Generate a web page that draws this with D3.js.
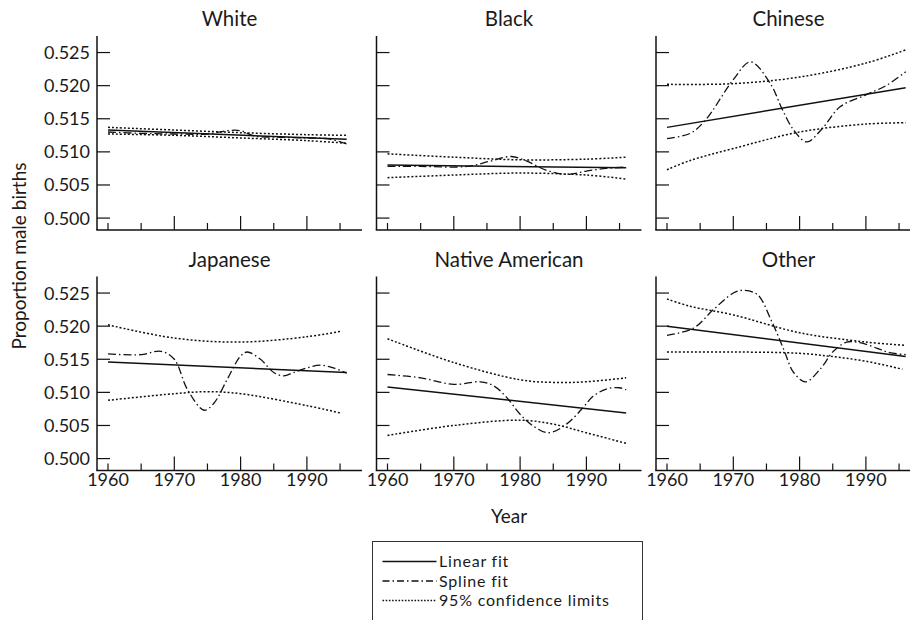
<!DOCTYPE html>
<html>
<head>
<meta charset="utf-8">
<script src="https://cdn.jsdelivr.net/npm/d3@7"></script>
<style>
  html, body { margin: 0; padding: 0; background: #fff; }
  svg { display: block; }
  text { font-family: "Lato", "Open Sans", sans-serif; fill: #1a1a1a; }
</style>
</head>
<body>
<svg id="chart" width="910" height="620"></svg>
<script>
// ---------------- DATA ----------------
const groups = ["White", "Black", "Chinese", "Japanese", "Native American", "Other"];
const yTickValues = [0.500, 0.505, 0.510, 0.515, 0.520, 0.525];
const xMajorTicks = [1970, 1980, 1990];
const xMinorTicks = [1960, 1965, 1975, 1985, 1995];
const xTickLabels = [1960, 1970, 1980, 1990];
const legendLabels = ["Linear fit", "Spline fit", "95% confidence limits"];

// linear fit: value at first and last year
const linearYears = [1960, 1996];
const linearWhite = [0.5133, 0.5119];
const linearBlack = [0.5080, 0.5076];
const linearChinese = [0.5137, 0.5197];
const linearJapanese = [0.5146, 0.5130];
const linearNative = [0.5108, 0.5069];
const linearOther = [0.5200, 0.5154];

// 95% confidence limits [year, value]
const upperWhite = [[1960,0.5137],[1970,0.5133],[1980,0.5129],[1990,0.5126],[1996,0.5125]];
const lowerWhite = [[1960,0.5127],[1970,0.5125],[1980,0.5121],[1990,0.5117],[1996,0.5113]];
const upperBlack = [[1960,0.5097],[1970,0.5092],[1980,0.5088],[1990,0.5089],[1996,0.5092]];
const lowerBlack = [[1960,0.5061],[1970,0.5065],[1980,0.5068],[1990,0.5065],[1996,0.5059]];
const upperChinese = [[1960,0.5202],[1970,0.5203],[1980,0.5213],[1990,0.5234],[1996,0.5254]];
const lowerChinese = [[1960,0.5073],[1963.5,0.5087],[1970,0.5105],[1980,0.5130],[1990,0.5142],[1996,0.5144]];
const upperJapanese = [[1960,0.5202],[1970,0.5182],[1980,0.5176],[1990,0.5184],[1995,0.5192]];
const lowerJapanese = [[1960,0.5088],[1970,0.5098],[1975,0.5101],[1980,0.5098],[1990,0.5080],[1995,0.5069]];
const upperNative = [[1960,0.5181],[1970,0.5145],[1980,0.5119],[1985,0.5115],[1990,0.5116],[1996,0.5122]];
const lowerNative = [[1960,0.5035],[1970,0.5050],[1980,0.5058],[1985,0.5052],[1990,0.5039],[1996,0.5023]];
const upperOther = [[1960,0.5241],[1963.5,0.5230],[1970,0.5217],[1980,0.5190],[1990,0.5176],[1996,0.5171]];
const lowerOther = [[1960,0.5161],[1970,0.5161],[1980,0.5159],[1985,0.5154],[1990,0.5147],[1995.5,0.5135]];

// spline fit [year, value]
const splineWhite = [[1960,0.5130],[1965,0.5128],[1970,0.5127],[1975,0.5127],[1978,0.5132],[1980,0.5132],[1982,0.5124],[1986,0.5122],[1990,0.5121],[1993,0.5120],[1996,0.5112]];
const splineBlack = [[1960,0.5078],[1965,0.5078],[1972,0.5078],[1975.5,0.5086],[1978.7,0.5093],[1981,0.5086],[1984,0.5072],[1987,0.5066],[1990,0.5071],[1993,0.5075],[1996,0.5077]];
const splineChinese = [[1960,0.5120],[1963.5,0.5128],[1965.8,0.5148],[1970,0.5209],[1972.6,0.5236],[1975.6,0.5203],[1977.3,0.5166],[1979.1,0.5133],[1981.1,0.5115],[1983.4,0.5135],[1986.1,0.5168],[1990,0.5186],[1993.2,0.5201],[1996,0.5221]];
const splineJapanese = [[1960,0.5158],[1965,0.5157],[1968,0.5162],[1970,0.5150],[1972,0.5104],[1974.5,0.5073],[1976,0.5084],[1978,0.5120],[1980,0.5155],[1981,0.5161],[1983,0.5150],[1985,0.5130],[1986.5,0.5125],[1988,0.5130],[1990,0.5137],[1992,0.5141],[1994,0.5137],[1996,0.5129]];
const splineNative = [[1960,0.5127],[1965,0.5122],[1970,0.5112],[1974,0.5116],[1976,0.5110],[1978,0.5092],[1980,0.5067],[1982,0.5049],[1984.3,0.5039],[1987,0.5052],[1989.5,0.5077],[1991,0.5094],[1993,0.5105],[1995,0.5107],[1996,0.5104]];
const splineOther = [[1960,0.5186],[1964,0.5197],[1967,0.5225],[1970,0.5250],[1971.3,0.5254],[1973.6,0.5248],[1975.8,0.5207],[1977.6,0.5165],[1979.1,0.5130],[1980.9,0.5116],[1983.1,0.5135],[1985.1,0.5162],[1987.1,0.5176],[1989.1,0.5175],[1991.6,0.5167],[1993.6,0.5160],[1996,0.5157]];

const linearFits = [linearWhite, linearBlack, linearChinese, linearJapanese, linearNative, linearOther];
const upperLimits = [upperWhite, upperBlack, upperChinese, upperJapanese, upperNative, upperOther];
const lowerLimits = [lowerWhite, lowerBlack, lowerChinese, lowerJapanese, lowerNative, lowerOther];
const splineFits = [splineWhite, splineBlack, splineChinese, splineJapanese, splineNative, splineOther];

// ---------------- LAYOUT ----------------
const svg = d3.select("#chart");
const colX = [97, 376.5, 656];
const rowY = [36, 276.5];
const pw = 265, ph = 194;
const x = d3.scaleLinear().domain([1958.34, 1998.31]).range([0, pw]);
const y = d3.scaleLinear().domain([0.4982, 0.5275]).range([ph, 0]);

const DASH_SPLINE = "8,3,1.5,3";
const DASH_DOT = "2,2";

const line = d3.line().x(d => x(d[0])).y(d => y(d[1])).curve(d3.curveCatmullRom.alpha(0.5));

groups.forEach((name, i) => {
  const col = i % 3, row = Math.floor(i / 3);
  const g = svg.append("g").attr("transform", `translate(${colX[col]},${rowY[row]})`);

  // title
  g.append("text").attr("x", pw / 2).attr("y", -10).attr("text-anchor", "middle")
    .style("font-size", "20.5px").text(name);

  // axis lines
  g.append("line").attr("x1", 0).attr("x2", 0).attr("y1", 0).attr("y2", ph)
    .attr("stroke", "#111").attr("stroke-width", 1.5);
  g.append("line").attr("x1", -0.75).attr("x2", pw).attr("y1", ph).attr("y2", ph)
    .attr("stroke", "#111").attr("stroke-width", 1.5);

  // y ticks (inward)
  g.selectAll(".yt").data(yTickValues).enter().append("line")
    .attr("x1", 0).attr("x2", 13).attr("y1", d => y(d)).attr("y2", d => y(d))
    .attr("stroke", "#111").attr("stroke-width", 1.2);
  if (col === 0) {
    g.selectAll(".yl").data(yTickValues).enter().append("text")
      .attr("x", -7).attr("y", d => y(d)).attr("dy", "0.36em").attr("text-anchor", "end")
      .style("font-size", "18px").text(d => d3.format(".3f")(d));
  }
  // x ticks (inward)
  g.selectAll(".xM").data(xMajorTicks).enter().append("line")
    .attr("x1", d => x(d)).attr("x2", d => x(d)).attr("y1", ph).attr("y2", ph - 14)
    .attr("stroke", "#111").attr("stroke-width", 1.2);
  g.selectAll(".xm").data(xMinorTicks).enter().append("line")
    .attr("x1", d => x(d)).attr("x2", d => x(d)).attr("y1", ph).attr("y2", ph - 7)
    .attr("stroke", "#111").attr("stroke-width", 1.2);
  if (row === 1) {
    g.selectAll(".xl").data(xTickLabels).enter().append("text")
      .attr("x", d => x(d)).attr("y", ph + 15).attr("text-anchor", "middle")
      .style("font-size", "18px").text(d => d);
  }

  // confidence limits
  [upperLimits[i], lowerLimits[i]].forEach(pts => {
    g.append("path").attr("d", line(pts)).attr("fill", "none")
      .attr("stroke", "#111").attr("stroke-width", 1.5).attr("stroke-dasharray", DASH_DOT);
  });
  // linear fit
  g.append("path").attr("d", d3.line().x(d => x(d[0])).y(d => y(d[1]))(linearYears.map((yr, k) => [yr, linearFits[i][k]])))
    .attr("fill", "none").attr("stroke", "#111").attr("stroke-width", 1.5);
  // spline fit
  g.append("path").attr("d", line(splineFits[i])).attr("fill", "none")
    .attr("stroke", "#111").attr("stroke-width", 1.3).attr("stroke-dasharray", DASH_SPLINE);
});

// axis titles
svg.append("text").attr("x", colX[1] + pw / 2).attr("y", 523).attr("text-anchor", "middle")
  .style("font-size", "19px").text("Year");
svg.append("text").attr("transform", `translate(26,${256}) rotate(-90)`).attr("text-anchor", "middle")
  .style("font-size", "19px").text("Proportion male births");

// legend
const lg = svg.append("g").attr("transform", "translate(372.5,541.5)");
lg.append("rect").attr("width", 270).attr("height", 120).attr("fill", "none")
  .attr("stroke", "#333").attr("stroke-width", 1);
const legendDash = [null, "7,3,1.5,3", "1.6,1.6"];
legendLabels.forEach((lab, k) => {
  const ly = 20 + k * 19.5;
  lg.append("line").attr("x1", 10).attr("x2", 64).attr("y1", ly).attr("y2", ly)
    .attr("stroke", "#111").attr("stroke-width", 1.3)
    .attr("stroke-dasharray", legendDash[k]);
  lg.append("text").attr("x", 66.5).attr("y", ly).attr("dy", "0.36em")
    .style("font-size", "16px").style("letter-spacing", "0.8px").text(lab);
});
</script>
</body>
</html>
